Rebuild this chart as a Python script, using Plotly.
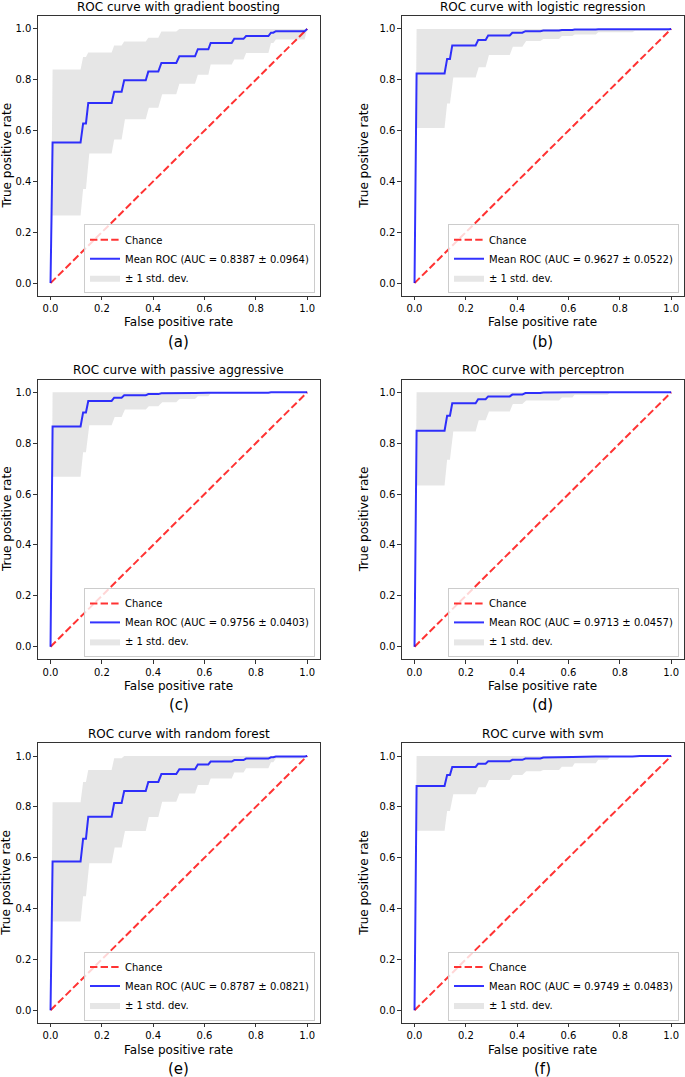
import plotly.graph_objects as go

FIG_W, FIG_H = 685, 1077

titles = ["ROC curve with gradient boosting", "ROC curve with logistic regression",
          "ROC curve with passive aggressive", "ROC curve with perceptron",
          "ROC curve with random forest", "ROC curve with svm"]
panel_tags = ["(a)", "(b)", "(c)", "(d)", "(e)", "(f)"]
auc_means = [0.8387, 0.9627, 0.9756, 0.9713, 0.8787, 0.9749]
auc_stds = [0.0964, 0.0522, 0.0403, 0.0457, 0.0821, 0.0483]
tick_vals = [0.0, 0.2, 0.4, 0.6, 0.8, 1.0]

chance_fpr = [0.0, 1.0]
chance_tpr = [0.0, 1.0]

# ---- (a) gradient boosting ----
gb_fpr = [0, 0.008, 0.117, 0.127, 0.138, 0.147, 0.238, 0.248, 0.277, 0.287, 0.371, 0.381, 0.42, 0.432,
          0.49, 0.502, 0.563, 0.574, 0.615, 0.624, 0.706, 0.716, 0.752, 0.762, 0.849, 0.859, 0.868, 0.878, 0.99, 1.0]
gb_tpr = [0, 0.553, 0.553, 0.628, 0.628, 0.709, 0.709, 0.753, 0.753, 0.798, 0.798, 0.832, 0.832, 0.866,
          0.866, 0.892, 0.892, 0.92, 0.92, 0.945, 0.945, 0.961, 0.961, 0.972, 0.972, 0.985, 0.985, 0.991, 0.991, 1.0]
gb_hi_fpr = [0, 0.008, 0.117, 0.127, 0.138, 0.147, 0.238, 0.248, 0.277, 0.287, 0.371, 0.381, 0.42, 0.432, 0.49, 0.502, 1.0]
gb_hi_tpr = [0, 0.84, 0.84, 0.889, 0.889, 0.907, 0.907, 0.935, 0.935, 0.95, 0.95, 0.965, 0.965, 0.99, 0.99, 1.0, 1.0]
gb_lo_fpr = [0, 0.008, 0.117, 0.127, 0.138, 0.151, 0.238, 0.248, 0.277, 0.29, 0.371, 0.383, 0.42, 0.435, 0.49,
             0.502, 0.563, 0.574, 0.615, 0.624, 0.706, 0.716, 0.752, 0.762, 0.849, 0.859, 0.868, 0.878, 0.99, 1.0]
gb_lo_tpr = [0, 0.266, 0.266, 0.37, 0.37, 0.51, 0.51, 0.565, 0.565, 0.645, 0.645, 0.69, 0.69, 0.743, 0.743,
             0.784, 0.784, 0.82, 0.82, 0.86, 0.86, 0.88, 0.88, 0.905, 0.905, 0.945, 0.945, 0.958, 0.958, 1.0]

# ---- (b) logistic regression ----
lr_fpr = [0, 0.008, 0.117, 0.127, 0.138, 0.147, 0.238, 0.248, 0.277, 0.287, 0.371, 0.381, 0.42, 0.432,
          0.49, 0.502, 0.563, 0.574, 0.615, 0.624, 0.706, 0.716, 0.99, 1.0]
lr_tpr = [0, 0.825, 0.825, 0.882, 0.882, 0.935, 0.935, 0.956, 0.956, 0.974, 0.974, 0.985, 0.985, 0.991,
          0.991, 0.994, 0.994, 0.996, 0.996, 0.998, 0.998, 0.999, 0.999, 1.0]
lr_hi_fpr = [0, 0.008, 1.0]
lr_hi_tpr = [0, 1.0, 1.0]
lr_lo_fpr = [0, 0.008, 0.117, 0.127, 0.138, 0.151, 0.238, 0.25, 0.277, 0.29, 0.371, 0.383, 0.42, 0.435, 0.49,
             0.502, 0.563, 0.574, 0.615, 0.624, 0.706, 0.716, 0.849, 0.859, 0.99, 1.0]
lr_lo_tpr = [0, 0.61, 0.61, 0.707, 0.707, 0.809, 0.809, 0.849, 0.849, 0.897, 0.897, 0.93, 0.93, 0.952, 0.952,
             0.96, 0.96, 0.972, 0.972, 0.978, 0.978, 0.987, 0.987, 0.993, 0.993, 1.0]

# ---- (c) passive aggressive ----
pa_fpr = [0, 0.008, 0.117, 0.127, 0.138, 0.147, 0.238, 0.248, 0.277, 0.287, 0.371, 0.381, 0.42, 0.432,
          0.563, 0.615, 0.849, 0.859, 1.0]
pa_tpr = [0, 0.866, 0.866, 0.921, 0.921, 0.966, 0.966, 0.979, 0.979, 0.988, 0.988, 0.993, 0.993, 0.996,
          0.997, 0.998, 0.998, 1.0, 1.0]
pa_hi_fpr = [0, 0.008, 1.0]
pa_hi_tpr = [0, 1.0, 1.0]
pa_lo_fpr = [0, 0.008, 0.117, 0.127, 0.138, 0.151, 0.238, 0.25, 0.277, 0.29, 0.371, 0.383, 0.42, 0.435, 0.49,
             0.502, 0.563, 0.574, 0.615, 0.624, 0.849, 0.859, 1.0]
pa_lo_tpr = [0, 0.668, 0.668, 0.764, 0.764, 0.871, 0.871, 0.903, 0.903, 0.932, 0.932, 0.945, 0.945, 0.961, 0.961,
             0.974, 0.974, 0.985, 0.985, 0.995, 0.997, 1.0, 1.0]

# ---- (d) perceptron ----
pc_fpr = [0, 0.008, 0.117, 0.127, 0.138, 0.147, 0.238, 0.248, 0.277, 0.287, 0.371, 0.381, 0.42, 0.432,
          0.49, 0.502, 0.615, 1.0]
pc_tpr = [0, 0.849, 0.849, 0.908, 0.908, 0.957, 0.957, 0.973, 0.973, 0.984, 0.984, 0.991, 0.991, 0.997,
          0.997, 0.999, 1.0, 1.0]
pc_hi_fpr = [0, 0.008, 1.0]
pc_hi_tpr = [0, 1.0, 1.0]
pc_lo_fpr = [0, 0.008, 0.117, 0.127, 0.138, 0.151, 0.238, 0.25, 0.277, 0.29, 0.371, 0.383, 0.42, 0.435, 0.563,
             0.574, 0.615, 0.624, 0.752, 0.762, 1.0]
pc_lo_tpr = [0, 0.634, 0.634, 0.735, 0.735, 0.846, 0.846, 0.89, 0.89, 0.925, 0.925, 0.954, 0.954, 0.968, 0.968,
             0.98, 0.98, 0.99, 0.99, 0.998, 1.0]

# ---- (e) random forest ----
rf_fpr = [0, 0.008, 0.117, 0.127, 0.138, 0.147, 0.238, 0.248, 0.277, 0.287, 0.371, 0.381, 0.42, 0.432,
          0.49, 0.502, 0.563, 0.574, 0.615, 0.624, 0.706, 0.716, 0.752, 0.762, 0.849, 0.859, 0.868, 0.878, 0.99, 1.0]
rf_tpr = [0, 0.585, 0.585, 0.675, 0.675, 0.761, 0.761, 0.815, 0.815, 0.862, 0.862, 0.898, 0.898, 0.929,
          0.929, 0.948, 0.948, 0.967, 0.967, 0.978, 0.978, 0.984, 0.984, 0.99, 0.99, 0.995, 0.995, 0.998, 0.998, 1.0]
rf_hi_fpr = [0, 0.008, 0.117, 0.127, 0.138, 0.147, 0.238, 0.248, 0.277, 0.287, 1.0]
rf_hi_tpr = [0, 0.818, 0.818, 0.898, 0.898, 0.945, 0.945, 0.991, 0.991, 1.0, 1.0]
rf_lo_fpr = [0, 0.008, 0.117, 0.127, 0.138, 0.151, 0.238, 0.25, 0.277, 0.29, 0.371, 0.383, 0.42, 0.435, 0.49,
             0.502, 0.563, 0.574, 0.615, 0.624, 0.706, 0.716, 0.752, 0.762, 0.849, 0.859, 0.868, 0.878, 0.99, 1.0]
rf_lo_tpr = [0, 0.349, 0.349, 0.448, 0.448, 0.578, 0.578, 0.64, 0.64, 0.705, 0.705, 0.76, 0.76, 0.82, 0.82,
             0.853, 0.853, 0.886, 0.886, 0.912, 0.912, 0.935, 0.935, 0.952, 0.952, 0.975, 0.975, 0.99, 0.99, 1.0]

# ---- (f) svm ----
sv_fpr = [0, 0.008, 0.117, 0.127, 0.138, 0.147, 0.238, 0.248, 0.277, 0.287, 0.371, 0.381, 0.42, 0.432,
          0.49, 0.502, 0.615, 0.706, 0.849, 0.878, 1.0]
sv_tpr = [0, 0.882, 0.882, 0.925, 0.925, 0.957, 0.957, 0.97, 0.97, 0.979, 0.979, 0.985, 0.985, 0.99,
          0.99, 0.994, 0.996, 0.998, 0.998, 1.0, 1.0]
sv_hi_fpr = [0, 0.008, 1.0]
sv_hi_tpr = [0, 1.0, 1.0]
sv_lo_fpr = [0, 0.008, 0.117, 0.127, 0.138, 0.151, 0.238, 0.25, 0.277, 0.29, 0.371, 0.383, 0.42, 0.435, 0.49,
             0.502, 0.563, 0.574, 0.615, 0.624, 0.706, 0.716, 0.752, 0.762, 1.0]
sv_lo_tpr = [0, 0.706, 0.706, 0.784, 0.784, 0.85, 0.85, 0.877, 0.877, 0.906, 0.906, 0.925, 0.925, 0.94, 0.94,
             0.945, 0.945, 0.958, 0.958, 0.972, 0.972, 0.985, 0.985, 0.996, 1.0]

curves = [
    (gb_fpr, gb_tpr, gb_lo_fpr, gb_lo_tpr, gb_hi_fpr, gb_hi_tpr),
    (lr_fpr, lr_tpr, lr_lo_fpr, lr_lo_tpr, lr_hi_fpr, lr_hi_tpr),
    (pa_fpr, pa_tpr, pa_lo_fpr, pa_lo_tpr, pa_hi_fpr, pa_hi_tpr),
    (pc_fpr, pc_tpr, pc_lo_fpr, pc_lo_tpr, pc_hi_fpr, pc_hi_tpr),
    (rf_fpr, rf_tpr, rf_lo_fpr, rf_lo_tpr, rf_hi_fpr, rf_hi_tpr),
    (sv_fpr, sv_tpr, sv_lo_fpr, sv_lo_tpr, sv_hi_fpr, sv_hi_tpr),
]

# ---- layout geometry (window pixels) ----
col_px = [(37.7, 320.0), (401.7, 684.0)]
row_px = [(16.2, 295.8), (379.6, 659.4), (743.3, 1023.0)]
ylab_x = [6.5, 363.7]
FONT = "DejaVu Sans"


def px(p):
    return p / FIG_W


def py(p):
    return 1 - p / FIG_H


fig = go.Figure()
layout = dict(width=FIG_W, height=FIG_H, margin=dict(l=0, r=0, t=0, b=0),
              paper_bgcolor="white", plot_bgcolor="white",
              font=dict(family=FONT, color="black", size=10), showlegend=True)
annotations = []

for i, (mx, my, lx, ly, hx, hy) in enumerate(curves):
    k = i + 1
    r, c = divmod(i, 2)
    left, right = col_px[c]
    top, bottom = row_px[r]
    xa = "x" if k == 1 else f"x{k}"
    ya = "y" if k == 1 else f"y{k}"
    lg = "legend" if k == 1 else f"legend{k}"
    common = dict(xaxis=xa, yaxis=ya, legend=lg, hoverinfo="skip")

    fig.add_trace(go.Scatter(x=lx, y=ly, mode="lines", line=dict(width=0, color="rgba(128,128,128,0)"),
                             showlegend=False, **common))
    fig.add_trace(go.Scatter(x=hx, y=hy, mode="lines", line=dict(width=0, color="rgba(128,128,128,0)"),
                             fill="tonexty", fillcolor="rgba(128,128,128,0.2)",
                             name="± 1 std. dev.", legendrank=3, **common))
    fig.add_trace(go.Scatter(x=chance_fpr, y=chance_tpr, mode="lines",
                             line=dict(color="rgba(255,0,0,0.8)", width=2, dash="7.4px,3.2px"),
                             name="Chance", legendrank=1, **common))
    fig.add_trace(go.Scatter(x=mx, y=my, mode="lines",
                             line=dict(color="rgba(0,0,255,0.8)", width=2),
                             name=f"Mean ROC (AUC = {auc_means[i]:.4f} ± {auc_stds[i]:.4f})",
                             legendrank=2, **common))

    axis_common = dict(range=[-0.05, 1.05], showgrid=False, zeroline=False, showline=True,
                       linecolor="black", linewidth=0.8, mirror=True, ticks="outside", ticklen=3.5,
                       tickwidth=0.8, tickcolor="black", tickvals=tick_vals, tickformat=".1f",
                       tickfont=dict(family=FONT, size=10, color="black"), fixedrange=True)
    layout[("xaxis" if k == 1 else f"xaxis{k}")] = dict(
        domain=[px(left), px(right)], anchor=ya, **axis_common)
    layout[("yaxis" if k == 1 else f"yaxis{k}")] = dict(
        domain=[py(bottom), py(top)], anchor=xa, **axis_common)
    layout[lg] = dict(x=px(right - 5), xanchor="right", y=py(bottom - 2.5), yanchor="bottom",
                      bgcolor="rgba(255,255,255,0.8)", bordercolor="#cccccc", borderwidth=1,
                      font=dict(family=FONT, size=10, color="black"), traceorder="normal",
                      tracegroupgap=0, itemwidth=30)

    cx = (left + right) / 2
    annotations.append(dict(text=titles[i], x=px(cx), y=py(top - 9.5), xref="paper", yref="paper",
                            xanchor="center", yanchor="middle", showarrow=False,
                            font=dict(family=FONT, size=12, color="black")))
    annotations.append(dict(text="False positive rate", x=px(cx), y=py(bottom + 26.5),
                            xref="paper", yref="paper", xanchor="center", yanchor="middle", showarrow=False,
                            font=dict(family=FONT, size=12, color="black")))
    annotations.append(dict(text="True positive rate", x=px(ylab_x[c]), y=py((top + bottom) / 2),
                            xref="paper", yref="paper", xanchor="center", yanchor="middle", showarrow=False,
                            textangle=-90, font=dict(family=FONT, size=12, color="black")))
    annotations.append(dict(text=panel_tags[i], x=px(cx), y=py(bottom + 46),
                            xref="paper", yref="paper", xanchor="center", yanchor="middle", showarrow=False,
                            font=dict(family=FONT, size=15, color="black")))

layout["annotations"] = annotations
fig.update_layout(**layout)
# remove the default 8 px page margin so the figure fills the window exactly
fig.write_html("out.html", config=dict(displayModeBar=False, staticPlot=True),
               post_script="document.body.style.margin='0';document.body.style.overflow='hidden';")
